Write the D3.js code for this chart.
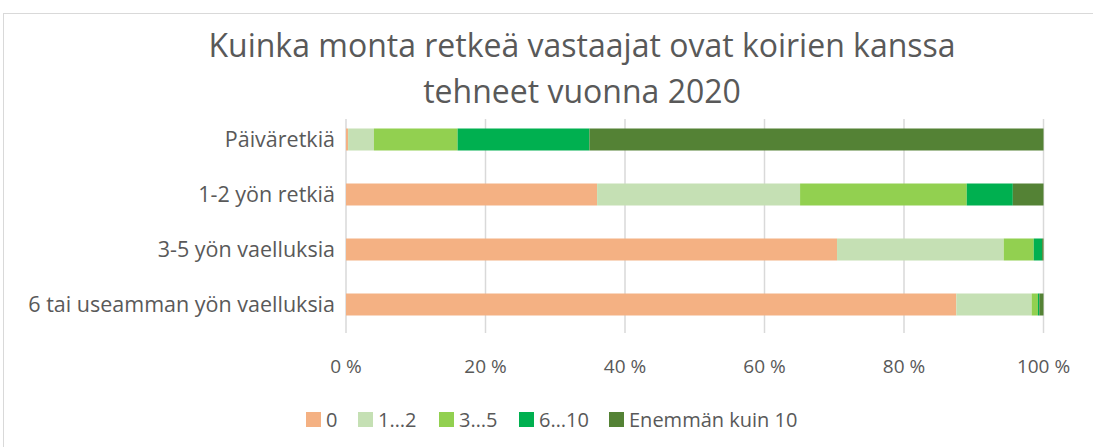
<!DOCTYPE html>
<meta charset="utf-8">
<title>retket 2020</title>
<style>
body { margin: 0; background: #fff; }
text { font-family: "Open Sans", "Noto Sans", "DejaVu Sans", sans-serif; fill: #595959; }
</style>
<body>
<script src="https://cdn.jsdelivr.net/npm/d3@7"></script>
<script>
var width = 1093, height = 447;

// data, percent of respondents
var categories = ["Päiväretkiä", "1-2 yön retkiä", "3-5 yön vaelluksia", "6 tai useamman yön vaelluksia"];
var series = ["0", "1…2", "3…5", "6…10", "Enemmän kuin 10"];
var colors = ["#F4B183", "#C5E0B4", "#92D050", "#00B050", "#548235"];
var v0 = [0.3, 36.0, 70.4, 87.5];
var v1to2 = [3.7, 29.1, 23.9, 10.8];
var v3to5 = [12.0, 23.9, 4.3, 0.9];
var v6to10 = [18.9, 6.6, 1.2, 0.2];
var vOver10 = [65.1, 4.4, 0.2, 0.6];
var ticks = [0, 20, 40, 60, 80, 100];

var rows = categories.map(function(c, i) {
  return { cat: c, "0": v0[i], "1…2": v1to2[i], "3…5": v3to5[i], "6…10": v6to10[i], "Enemmän kuin 10": vOver10[i] };
});

var svg = d3.select("body").append("svg")
    .attr("width", width)
    .attr("height", height);

// chart frame
svg.append("rect")
    .attr("x", 3.5).attr("y", 13.5)
    .attr("width", width + 10).attr("height", height + 10)
    .attr("fill", "none")
    .attr("stroke", "#d9d9d9");

var x = d3.scaleLinear().domain([0, 100]).range([346, 1043.5]);
var y = d3.scaleBand().domain(categories).range([112, 332]).paddingInner(0.6).paddingOuter(0.3);

// gridlines
svg.append("g").selectAll("line")
    .data(ticks)
  .enter().append("line")
    .attr("x1", function(d) { return x(d); })
    .attr("x2", function(d) { return x(d); })
    .attr("y1", 119).attr("y2", 333)
    .attr("stroke", "#d9d9d9")
    .attr("stroke-width", 1.5);

var stack = d3.stack().keys(series)(rows);

svg.append("g").selectAll("g")
    .data(stack)
  .enter().append("g")
    .attr("fill", function(d, i) { return colors[i]; })
  .selectAll("rect")
    .data(function(d) { return d; })
  .enter().append("rect")
    .attr("x", function(d) { return x(d[0]); })
    .attr("width", function(d) { return x(d[1]) - x(d[0]); })
    .attr("y", function(d) { return y(d.data.cat); })
    .attr("height", y.bandwidth());

// x axis labels
svg.append("g").selectAll("text")
    .data(ticks)
  .enter().append("text")
    .attr("x", function(d) { return x(d); })
    .attr("y", 373)
    .attr("text-anchor", "middle")
    .style("font-size", "19px")
    .text(function(d) { return d + " %"; });

// category labels
svg.append("g").selectAll("text")
    .data(categories)
  .enter().append("text")
    .attr("x", 335)
    .attr("y", function(d) { return y(d) + y.bandwidth() / 2; })
    .attr("dy", "0.36em")
    .attr("text-anchor", "end")
    .style("font-size", "21.5px")
    .text(function(d) { return d; });

// title
var title = svg.append("text")
    .attr("text-anchor", "middle")
    .style("font-size", "32px");
title.append("tspan").attr("x", 582).attr("y", 57).text("Kuinka monta retkeä vastaajat ovat koirien kanssa");
title.append("tspan").attr("x", 582).attr("y", 103).text("tehneet vuonna 2020");

// legend
var lx = [306, 358, 439, 519, 609];
var legend = svg.append("g").selectAll("g")
    .data(series)
  .enter().append("g")
    .attr("transform", function(d, i) { return "translate(" + lx[i] + ",412)"; });
legend.append("rect")
    .attr("width", 15).attr("height", 15)
    .attr("fill", function(d, i) { return colors[i]; });
legend.append("text")
    .attr("x", 20).attr("y", 15)
    .style("font-size", "20px")
    .text(function(d) { return d; });
</script>
</body>
